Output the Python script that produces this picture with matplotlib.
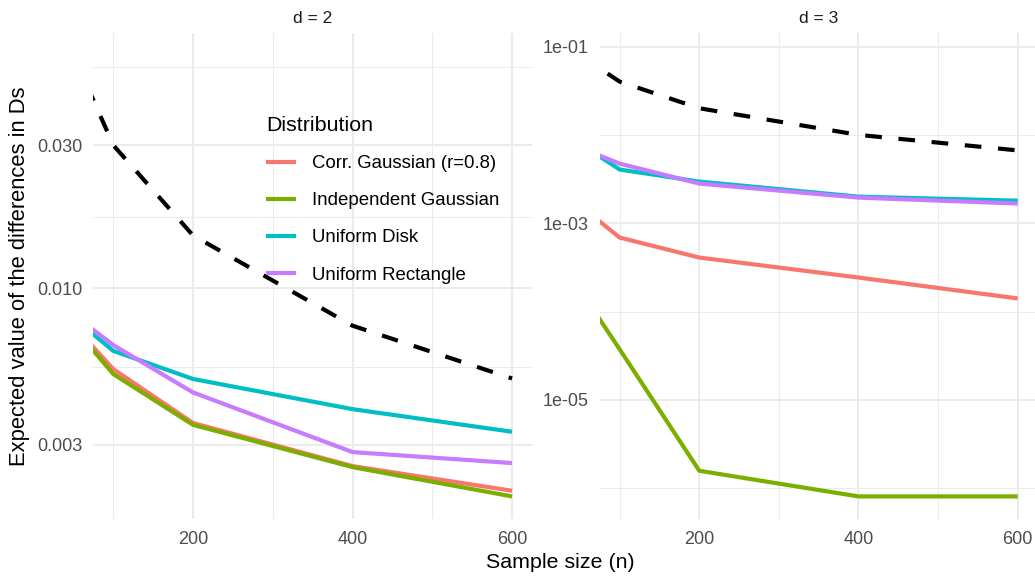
import numpy as np
import matplotlib
matplotlib.use("Agg")
import matplotlib.pyplot as plt
from matplotlib.ticker import FixedLocator, NullFormatter, FixedFormatter

plt.rcParams['font.family'] = ['Liberation Sans', 'DejaVu Sans']

# ---- data ----
n_sizes = [50, 100, 200, 400, 600]
dist_names = ["Corr. Gaussian (r=0.8)", "Independent Gaussian",
              "Uniform Disk", "Uniform Rectangle"]
dist_colors = ["#F8766D", "#7CAE00", "#00BFC4", "#C77CFF"]

d2_corr  = [7.52e-3, 5.37e-3, 3.55e-3, 2.55e-3, 2.11e-3]
d2_indep = [7.40e-3, 5.17e-3, 3.50e-3, 2.53e-3, 2.02e-3]
d2_disk  = [7.96e-3, 6.18e-3, 4.98e-3, 3.95e-3, 3.32e-3]
d2_rect  = [8.17e-3, 6.46e-3, 4.49e-3, 2.84e-3, 2.61e-3]
d2_ref   = [0.06, 0.03, 0.015, 0.0075, 0.005]

d3_corr  = [1.58e-3, 6.89e-4, 4.09e-4, 2.43e-4, 1.41e-4]
d3_indep = [1.78e-4, 3.74e-5, 1.58e-6, 8.1e-7, 8.1e-7]
d3_disk  = [7.96e-3, 4.05e-3, 2.96e-3, 2.00e-3, 1.80e-3]
d3_rect  = [7.16e-3, 4.73e-3, 2.81e-3, 1.95e-3, 1.67e-3]
d3_ref   = [0.08, 0.04, 0.02, 0.01, 0.00667]

x_limits = (100, 600)
x_major = [200, 400, 600]
x_minor = [100, 300, 500]

d2_major = [0.003, 0.01, 0.03]
d2_labels = ["0.003", "0.010", "0.030"]
d3_major = [1e-5, 1e-3, 1e-1]
d3_labels = ["1e-05", "1e-03", "1e-01"]

W, H = 1035, 578
fig = plt.figure(figsize=(W / 100, H / 100), dpi=100)


def px_axes(x0, x1, top, bottom):
    return fig.add_axes([x0 / W, 1 - bottom / H, (x1 - x0) / W, (bottom - top) / H])


def expand_log(vals, mult=0.05):
    lv = np.log10(np.concatenate([np.asarray(v, float) for v in vals]))
    lo, hi = lv.min(), lv.max()
    pad = (hi - lo) * mult
    return 10 ** (lo - pad), 10 ** (hi + pad)


def log_minor(major):
    lm = np.log10(major)
    step = lm[1] - lm[0]
    ext = np.concatenate([[lm[0] - step], lm, [lm[-1] + step]])
    return list(10 ** ((ext[:-1] + ext[1:]) / 2))


ax1 = px_axes(93.4, 532, 33, 518.5)
ax2 = px_axes(599.8, 1037.6, 33, 518.5)

panels = [
    (ax1, "d = 2", [d2_corr, d2_indep, d2_disk, d2_rect], d2_ref, d2_major, d2_labels),
    (ax2, "d = 3", [d3_corr, d3_indep, d3_disk, d3_rect], d3_ref, d3_major, d3_labels),
]

xr = x_limits[1] - x_limits[0]
for ax, title, series, ref, ymaj, ylab in panels:
    for vals, name, col in zip(series, dist_names, dist_colors):
        ax.plot(n_sizes, vals, color=col, lw=3.0, label=name,
                solid_capstyle="butt", solid_joinstyle="round")
    ax.plot(n_sizes, ref, color="black", lw=3.0, ls=(0, (4, 4)),
            dash_capstyle="butt")
    ax.set_yscale("log")
    ax.set_xlim(x_limits[0] - 0.05 * xr, x_limits[1] + 0.05 * xr)
    ax.set_ylim(*expand_log(series + [ref]))
    ax.yaxis.set_major_locator(FixedLocator(ymaj))
    ax.yaxis.set_major_formatter(FixedFormatter(ylab))
    ax.yaxis.set_minor_locator(FixedLocator(log_minor(ymaj)))
    ax.yaxis.set_minor_formatter(NullFormatter())
    ax.set_xticks(x_major, [str(v) for v in x_major])
    ax.set_xticks(x_minor, minor=True)
    ax.grid(which="major", color="#EBEBEB", lw=1.5)
    ax.grid(which="minor", color="#EBEBEB", lw=0.75)
    ax.set_axisbelow(True)
    for s in ax.spines.values():
        s.set_visible(False)
    ax.tick_params(which="both", length=0, labelsize=13, labelcolor="#4D4D4D")
    ax.tick_params(axis="x", pad=9)
    ax.tick_params(axis="y", pad=8)
    ax.set_title(title, fontsize=12.5, color="#1A1A1A", pad=7.5)

leg = ax1.legend(loc="upper left", bbox_to_anchor=(266 / W, 1 - 116 / H),
                 bbox_transform=fig.transFigure, frameon=False,
                 title="Distribution", title_fontsize=15.4, fontsize=13.4,
                 handlelength=1.6, handletextpad=0.85, labelspacing=1.08,
                 borderpad=0, borderaxespad=0, alignment="left")
for h in leg.get_lines():
    h.set_linewidth(3.0)

fig.text(20 / W, 1 - 276 / H, "Expected value of the differences in Ds",
         rotation=90, ha="center", va="center", fontsize=15.8)
fig.text(560 / W, 1 - 562 / H, "Sample size (n)", ha="center", va="center",
         fontsize=15.4)

fig.savefig("out.png", dpi=100)
